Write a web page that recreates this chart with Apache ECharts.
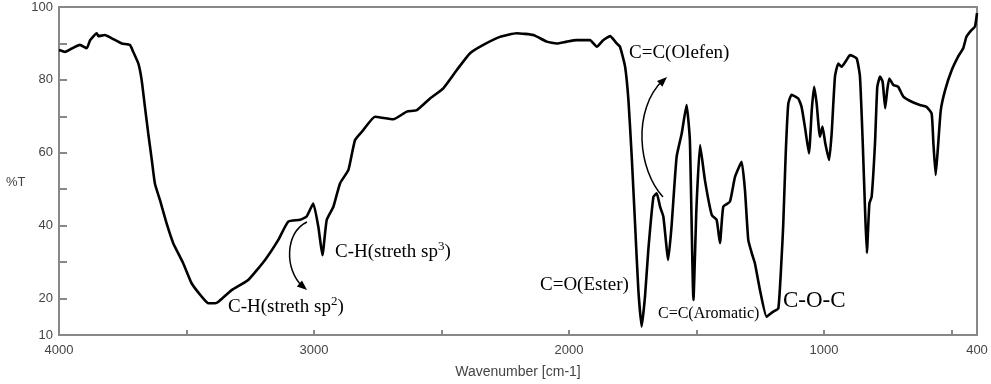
<!DOCTYPE html>
<html>
<head>
<meta charset="utf-8">
<script src="https://cdn.jsdelivr.net/npm/echarts@6/dist/echarts.min.js"></script>
<style>html,body{margin:0;padding:0;background:#fff}#c{width:991px;height:384px}</style>
</head>
<body>
<div id="c"></div>
<script>
const wavenumbers = [4000,3976,3950,3918,3891,3878,3852,3846,3820,3793,3754,3722,3709,3689,3676,3663,3650,3636,3624,3604,3578,3552,3513,3480,3440,3414,3388,3375,3323,3258,3192,3140,3101,3055,3029,3003,2983,2967,2950,2924,2898,2865,2839,2807,2761,2689,2636,2597,2545,2493,2440,2388,2336,2271,2205,2140,2087,2048,2009,1970,1918,1891,1866,1839,1813,1800,1780,1767,1754,1741,1728,1715,1702,1689,1669,1656,1643,1630,1611,1598,1578,1558,1539,1526,1512,1500,1486,1467,1440,1421,1408,1395,1369,1349,1323,1310,1297,1283,1271,1251,1225,1199,1179,1166,1160,1150,1140,1127,1101,1088,1074,1059,1048,1039,1029,1016,1006,995,980,970,957,944,931,911,898,872,859,848,839,832,822,813,800,791,780,770,760,752,744,728,709,689,656,624,598,578,571,562,552,542,525,499,474,454,441,421,408,400];
const transmittance = [88.2,87.7,88.6,89.6,88.7,90.9,92.8,92.0,92.3,91.4,90.0,89.6,87.7,84.5,80.0,72.6,65.3,58.0,51.6,47.0,40.6,35.2,29.7,24.2,20.5,18.7,18.7,19.1,22.3,25.1,30.6,36.1,41.1,41.6,42.5,46.1,39.7,31.9,41.6,45.2,51.6,55.3,63.5,66.2,69.9,69.2,71.3,71.7,74.9,77.7,82.7,87.3,89.6,91.8,92.8,92.3,90.5,90.0,90.5,90.9,90.9,89.1,90.9,92.0,90.0,89.1,83.6,74.5,58.9,40.6,22.3,12.3,20.5,33.3,47.9,48.9,45.2,42.5,30.6,39.7,58.9,65.3,73.1,63.5,19.6,45.2,62.1,52.5,42.9,41.6,35.2,45.2,46.6,53.4,57.5,49.8,36.1,32.4,29.7,22.3,15.0,16.4,17.3,31.5,40.0,60.0,73.5,75.9,74.9,72.6,66.7,59.8,71.7,78.1,73.6,64.4,67.2,62.6,58.0,65.3,80.9,84.5,83.6,85.5,86.8,85.9,80.9,62.6,44.3,32.5,46.1,48.0,62.6,78.1,80.9,79.5,72.2,77.2,80.4,78.6,78.1,75.4,74.0,73.1,72.6,70.8,62.6,53.9,62.6,71.7,77.2,82.7,86.4,88.7,91.9,93.7,94.6,98.3];
const xTickValues = [500,1000,1500,2000,2500,3000,3500];
const xLabelValues = [400,1000,2000,3000,4000];
const yTickValues = [20,30,40,50,60,70,80,90];
const yLabelValues = [10,20,40,60,80,100];

const chart = echarts.init(document.getElementById('c'), null, {renderer:'canvas'});
const serif = '"Liberation Serif","Times New Roman",serif';
const sans = '"Liberation Sans",Arial,sans-serif';
const arrowStyle = {stroke:'#000', lineWidth:1.5, fill:null};
const supRich = {a:{fontFamily:serif,fontSize:19,color:'#000',lineHeight:22,verticalAlign:'bottom'},s:{fontFamily:serif,fontSize:13,color:'#000',lineHeight:22,verticalAlign:'top',padding:[0,0,9,0]}};
chart.setOption({
  animation:false,
  grid:{left:59,right:14,top:7,bottom:49,show:true,borderColor:'#888',borderWidth:2,backgroundColor:'transparent'},
  xAxis:{
    type:'value', inverse:true, min:400, max:4000,
    name:'Wavenumber [cm-1]', nameLocation:'middle', nameGap:30,
    nameTextStyle:{fontFamily:sans,fontSize:14,color:'#444'},
    axisLine:{show:true,lineStyle:{color:'#888',width:2}},
    axisTick:{show:true,inside:true,length:5,customValues:xTickValues,lineStyle:{color:'#888',width:2}},
    axisLabel:{customValues:xLabelValues,margin:9,fontFamily:sans,fontSize:13,color:'#444',showMinLabel:true,showMaxLabel:true,formatter:v=>String(v)},
    splitLine:{show:false}
  },
  yAxis:{
    type:'value', min:10, max:100, interval:10,
    axisLine:{show:true,lineStyle:{color:'#888',width:2}},
    axisTick:{show:true,inside:true,length:8,customValues:yTickValues,lineStyle:{color:'#888',width:2}},
    axisLabel:{customValues:yLabelValues,margin:6,fontFamily:sans,fontSize:13,color:'#444',showMinLabel:true,showMaxLabel:true,formatter:v=>String(v)},
    splitLine:{show:false}
  },
  series:[{
    type:'line', showSymbol:false, smooth:0.15,
    data: wavenumbers.map((w,i)=>[w,transmittance[i]]),
    lineStyle:{color:'#000',width:2.6},
    z:3
  }],
  graphic:[
    {type:'text',left:6,top:176,style:{text:'%T',fontFamily:sans,fontSize:13,fill:'#444'}},
    {type:'text',left:228,top:295,style:{text:'{a|C-H(streth sp}{s|2}{a|)}',rich:supRich}},
    {type:'text',left:335,top:240,style:{text:'{a|C-H(streth sp}{s|3}{a|)}',rich:supRich}},
    {type:'text',left:540,top:276,style:{text:'C=O(Ester)',fontFamily:serif,fontSize:19,fill:'#000'}},
    {type:'text',left:658,top:306,style:{text:'C=C(Aromatic)',fontFamily:serif,fontSize:16,fill:'#000'}},
    {type:'text',left:783,top:289,style:{text:'C-O-C',fontFamily:serif,fontSize:23,fill:'#000'}},
    {type:'text',left:629,top:44,style:{text:'C=C(Olefen)',fontFamily:serif,fontSize:19,fill:'#000'}},
    {type:'bezierCurve',shape:{x1:307,y1:222,cpx1:285,cpy1:232,cpx2:284,cpy2:270,x2:303,y2:287},style:arrowStyle},
    {type:'polygon',shape:{points:[[307,290],[296.8,286.5],[302,280.5]]},style:{fill:'#000'}},
    {type:'bezierCurve',shape:{x1:663,y1:197,cpx1:638,cpy1:170,cpx2:632,cpy2:110,x2:663,y2:80},style:arrowStyle},
    {type:'polygon',shape:{points:[[667,77],[662.4,86.7],[657,80.9]]},style:{fill:'#000'}}
  ]
});
</script>
</body>
</html>
